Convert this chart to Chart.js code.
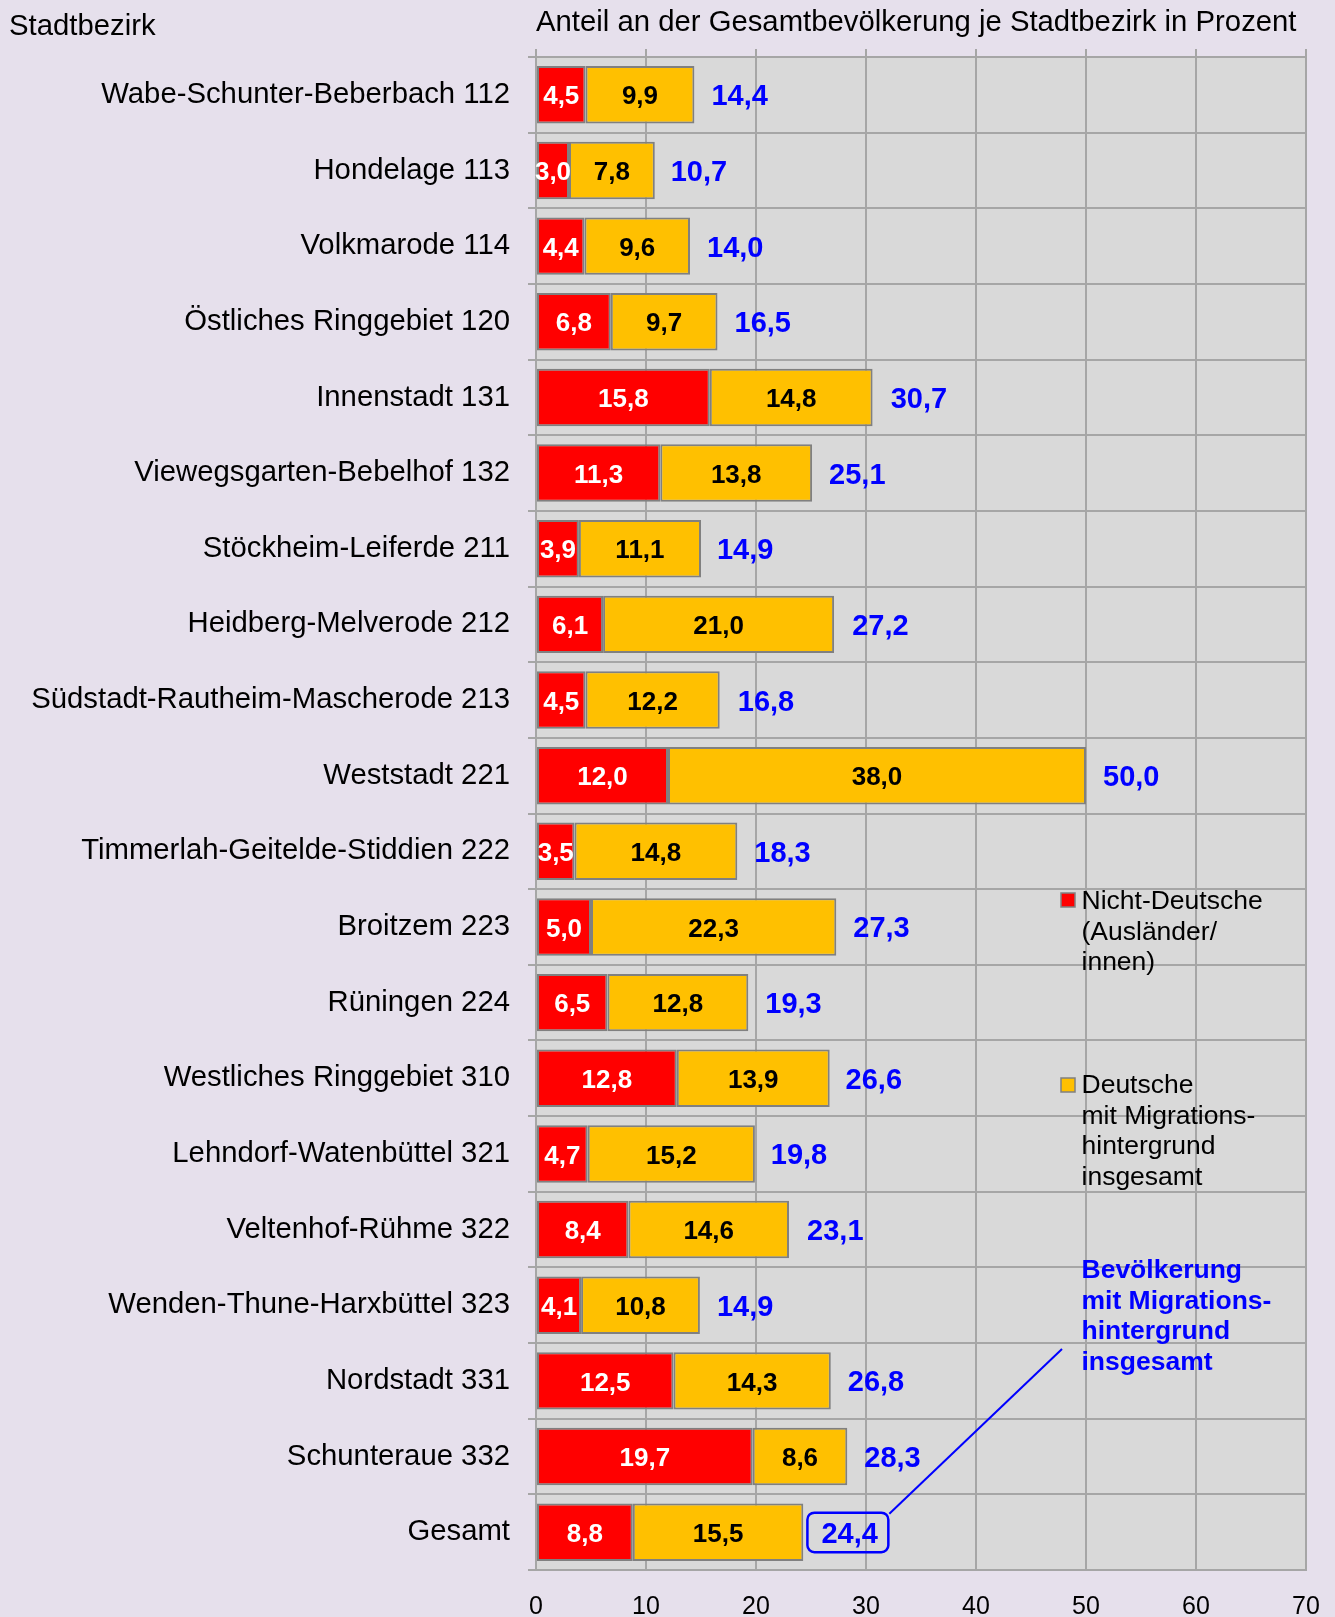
<!DOCTYPE html>
<html>
<head>
<meta charset="utf-8">
<script src="https://cdn.jsdelivr.net/npm/chart.js@4.4.1/dist/chart.umd.min.js"></script>
<style>
  html, body { margin: 0; padding: 0; background: #E6E0EC; }
  #wrap { width: 1335px; height: 1617px; }
</style>
</head>
<body>
<div id="wrap"><canvas id="c" width="1335" height="1617"></canvas></div>
<script>
const categories = [
  'Wabe-Schunter-Beberbach 112', 'Hondelage 113', 'Volkmarode 114', 'Östliches Ringgebiet 120',
  'Innenstadt 131', 'Viewegsgarten-Bebelhof 132', 'Stöckheim-Leiferde 211', 'Heidberg-Melverode 212',
  'Südstadt-Rautheim-Mascherode 213', 'Weststadt 221', 'Timmerlah-Geitelde-Stiddien 222', 'Broitzem 223',
  'Rüningen 224', 'Westliches Ringgebiet 310', 'Lehndorf-Watenbüttel 321', 'Veltenhof-Rühme 322',
  'Wenden-Thune-Harxbüttel 323', 'Nordstadt 331', 'Schunteraue 332', 'Gesamt'
];
const nonGerman = [4.5, 3.0, 4.4, 6.8, 15.8, 11.3, 3.9, 6.1, 4.5, 12.0, 3.5, 5.0, 6.5, 12.8, 4.7, 8.4, 4.1, 12.5, 19.7, 8.8];
const germanMigrant = [9.9, 7.8, 9.6, 9.7, 14.8, 13.8, 11.1, 21.0, 12.2, 38.0, 14.8, 22.3, 12.8, 13.9, 15.2, 14.6, 10.8, 14.3, 8.6, 15.5];
const totals = [14.4, 10.7, 14.0, 16.5, 30.7, 25.1, 14.9, 27.2, 16.8, 50.0, 18.3, 27.3, 19.3, 26.6, 19.8, 23.1, 14.9, 26.8, 28.3, 24.4];
const axisMin = 0;
const axisMax = 70;
const axisStep = 10;
const yAxisHeading = 'Stadtbezirk';
const chartTitle = 'Anteil an der Gesamtbevölkerung je Stadtbezirk in Prozent';
const legendRed = ['Nicht-Deutsche', '(Ausländer/', 'innen)'];
const legendYellow = ['Deutsche', 'mit Migrations-', 'hintergrund', 'insgesamt'];
const legendTotal = ['Bevölkerung', 'mit Migrations-', 'hintergrund', 'insgesamt'];

const FONT = "'Liberation Sans', Arial, Helvetica, sans-serif";
const RED = '#FF0000', YELLOW = '#FFC000', BLUE = '#0000FF', GRID = '#A6A6A6';
const fmt = v => v.toFixed(1).replace('.', ',');

const decor = {
  id: 'decor',
  beforeDraw(chart) {
    const { ctx, chartArea: a, width, height } = chart;
    ctx.save();
    ctx.fillStyle = '#E6E0EC';
    ctx.fillRect(0, 0, width, height);
    ctx.fillStyle = '#D9D9D9';
    ctx.fillRect(a.left, a.top, a.right - a.left, a.bottom - a.top);
    ctx.fillStyle = '#000';
    ctx.font = `29.3px ${FONT}`;
    ctx.textAlign = 'left';
    ctx.textBaseline = 'alphabetic';
    ctx.fillText(yAxisHeading, 9, 35);
    ctx.fillText(chartTitle, a.left, 31);
    ctx.restore();
  },
  afterDatasetsDraw(chart) {
    const { ctx } = chart;
    const xs = chart.scales.x, ys = chart.scales.y;
    ctx.save();
    ctx.textBaseline = 'middle';
    chart.data.datasets.forEach((ds, di) => {
      const meta = chart.getDatasetMeta(di);
      meta.data.forEach((bar, i) => {
        const cx = (bar.x + bar.base) / 2;
        ctx.fillStyle = di === 0 ? '#FFFFFF' : '#000000';
        ctx.font = `bold 26px ${FONT}`;
        ctx.textAlign = 'center';
        ctx.fillText(fmt(ds.data[i]), cx, bar.y + 2.5);
      });
    });
    totals.forEach((t, i) => {
      const y = ys.getPixelForValue(i);
      const x = xs.getPixelForValue(t) + 17;
      const label = fmt(t);
      ctx.font = `bold 29px ${FONT}`;
      ctx.fillStyle = BLUE;
      ctx.textAlign = 'left';
      ctx.fillText(label, x, y + 2.5);
      if (i === totals.length - 1) {
        const w = ctx.measureText(label).width;
        const l = x - 14, r = x + w + 10.5, top = y - 19.5, bot = y + 20;
        ctx.strokeStyle = BLUE;
        ctx.lineWidth = 2.5;
        ctx.beginPath();
        ctx.roundRect(l, top, r - l, bot - top, 7);
        ctx.stroke();
        const a = chart.chartArea;
        ctx.lineWidth = 2;
        ctx.beginPath();
        ctx.moveTo(r + 1, top + 1);
        ctx.lineTo(a.left + 526, a.top + 1292);
        ctx.stroke();
      }
    });
    ctx.restore();
  },
  afterDraw(chart) {
    const { ctx, chartArea: a } = chart;
    const tx = a.left + 545.5, sx = a.left + 525;
    const lh = 30.5;
    ctx.save();
    ctx.textAlign = 'left';
    ctx.textBaseline = 'alphabetic';
    const drawSwatch = (color, y) => {
      ctx.fillStyle = color;
      ctx.fillRect(sx, y, 14, 14);
      ctx.strokeStyle = '#808080';
      ctx.lineWidth = 1.5;
      ctx.strokeRect(sx, y, 14, 14);
    };
    drawSwatch(RED, a.top + 836);
    ctx.fillStyle = '#000';
    ctx.font = `26.5px ${FONT}`;
    legendRed.forEach((s, k) => ctx.fillText(s, tx, a.top + 852 + k * lh));
    drawSwatch(YELLOW, a.top + 1021);
    ctx.fillStyle = '#000';
    legendYellow.forEach((s, k) => ctx.fillText(s, tx, a.top + 1036 + k * lh));
    ctx.fillStyle = BLUE;
    ctx.font = `bold 26.5px ${FONT}`;
    legendTotal.forEach((s, k) => ctx.fillText(s, tx, a.top + 1221 + k * lh));
    ctx.restore();
  }
};

new Chart(document.getElementById('c'), {
  type: 'bar',
  data: {
    labels: categories,
    datasets: [
      { label: 'Nicht-Deutsche (Ausländer/innen)', data: nonGerman, backgroundColor: RED,
        borderColor: '#808080', borderWidth: 2, borderSkipped: false },
      { label: 'Deutsche mit Migrationshintergrund insgesamt', data: germanMigrant, backgroundColor: YELLOW,
        borderColor: '#808080', borderWidth: 2, borderSkipped: false }
    ]
  },
  options: {
    indexAxis: 'y',
    responsive: false,
    animation: false,
    devicePixelRatio: 1,
    categoryPercentage: 1,
    barPercentage: 0.76,
    layout: { padding: { top: 49, right: 29, bottom: 0, left: 0 } },
    plugins: { legend: { display: false }, tooltip: { enabled: false }, title: { display: false } },
    scales: {
      x: {
        type: 'linear', position: 'bottom', stacked: true, min: axisMin, max: axisMax,
        ticks: { stepSize: axisStep, color: '#000', font: { family: FONT, size: 25 }, padding: 22,
                 callback: v => String(v) },
        grid: { color: GRID, lineWidth: 2, drawTicks: false },
        border: { color: GRID, width: 2 },
        afterFit(s) { s.height = 47; s.paddingLeft = 0; s.paddingRight = 0; }
      },
      x2: {
        type: 'linear', position: 'top', min: axisMin, max: axisMax,
        ticks: { stepSize: axisStep, display: false },
        grid: { color: GRID, lineWidth: 2, drawOnChartArea: false, drawTicks: true, tickLength: 8 },
        border: { color: GRID, width: 2 },
        afterFit(s) { s.height = 8; s.paddingLeft = 0; s.paddingRight = 0; }
      },
      y: {
        type: 'category', stacked: true,
        ticks: { color: '#000', font: { family: FONT, size: 29.3 }, padding: 18, autoSkip: false },
        grid: { color: GRID, lineWidth: 2, tickLength: 8, offset: true },
        border: { color: GRID, width: 2 },
        afterFit(s) { s.width = 536; }
      }
    }
  },
  plugins: [decor]
});
</script>
</body>
</html>
